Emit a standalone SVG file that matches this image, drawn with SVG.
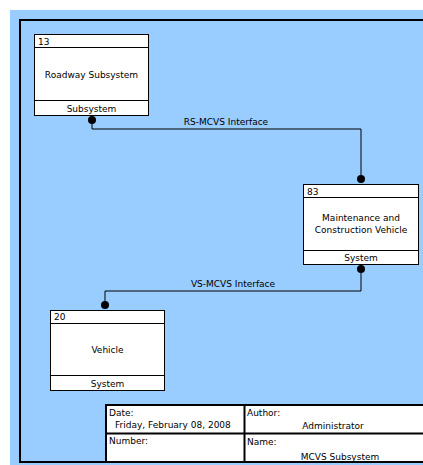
<svg xmlns="http://www.w3.org/2000/svg" width="423" height="465" viewBox="0 0 423 465">
<style>
text{font-family:"DejaVu Sans","Liberation Sans",sans-serif;font-size:9px;fill:#000}
.box{fill:#fff;stroke:#000;stroke-width:1}
.ln{stroke:#000;stroke-width:1;fill:none}
.c{text-anchor:middle}
</style>
<rect x="0" y="0" width="423" height="465" fill="#fff"/>
<rect x="10" y="10" width="420" height="460" fill="#99CCFF"/>
<rect x="20" y="20" width="420" height="442" fill="none" stroke="#000" stroke-width="2"/>
<g id="connectors">
<polyline class="ln" points="92,120 92,129 361,129 361,179"/>
<circle cx="92" cy="120" r="4"/>
<circle cx="361" cy="179" r="4"/>
<text class="c" x="226" y="125">RS-MCVS Interface</text>
<polyline class="ln" points="361,269 361,291 105,291 105,305"/>
<circle cx="361" cy="269" r="4"/>
<circle cx="105" cy="305" r="4"/>
<text class="c" x="233" y="287">VS-MCVS Interface</text>
</g>
<g id="node13">
<rect class="box" x="34.5" y="34.5" width="114" height="81"/>
<line class="ln" x1="34.5" y1="47.5" x2="148.5" y2="47.5"/>
<line class="ln" x1="34.5" y1="100.5" x2="148.5" y2="100.5"/>
<text x="38" y="45">13</text>
<text class="c" x="91.5" y="78">Roadway Subsystem</text>
<text class="c" x="91.5" y="112">Subsystem</text>
</g>
<g id="node83">
<rect class="box" x="303.5" y="184.5" width="115" height="80"/>
<line class="ln" x1="303.5" y1="197.5" x2="418.5" y2="197.5"/>
<line class="ln" x1="303.5" y1="250.5" x2="418.5" y2="250.5"/>
<text x="307" y="195">83</text>
<text class="c" x="361" y="221">Maintenance and</text>
<text class="c" x="361" y="233">Construction Vehicle</text>
<text class="c" x="361" y="261">System</text>
</g>
<g id="node20">
<rect class="box" x="50.5" y="310.5" width="114" height="80"/>
<line class="ln" x1="50.5" y1="323.5" x2="164.5" y2="323.5"/>
<line class="ln" x1="50.5" y1="375.5" x2="164.5" y2="375.5"/>
<text x="54" y="320">20</text>
<text class="c" x="107.5" y="353">Vehicle</text>
<text class="c" x="107.5" y="387">System</text>
</g>
<g id="titleblock">
<rect x="106" y="405" width="330" height="57" fill="#fff" stroke="#000" stroke-width="2"/>
<line x1="106" y1="433.5" x2="436" y2="433.5" stroke="#000" stroke-width="2"/>
<line x1="244.5" y1="405" x2="244.5" y2="462" stroke="#000" stroke-width="2"/>
<text x="109" y="416">Date:</text>
<text x="115" y="428">Friday, February 08, 2008</text>
<text x="109" y="444">Number:</text>
<text x="247" y="416">Author:</text>
<text class="c" x="333" y="429">Administrator</text>
<text x="247" y="445">Name:</text>
<text class="c" x="340" y="460">MCVS Subsystem</text>
</g>
</svg>
